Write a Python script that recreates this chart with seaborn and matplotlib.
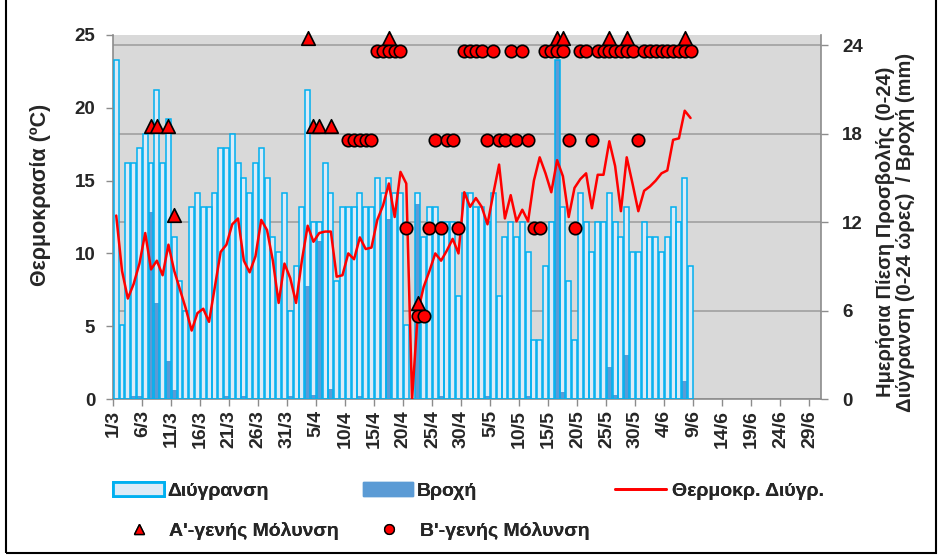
"""Wetness, rain, temperature and infection pressure, 1/3 - 29/6."""

import matplotlib

matplotlib.use("Agg")

import matplotlib.pyplot as plt
import numpy as np
import pandas as pd
import seaborn as sns
from matplotlib.lines import Line2D
from matplotlib.patches import Patch, Rectangle


sns.set_theme(style="white")
plt.rcParams["font.family"] = ["Liberation Sans", "DejaVu Sans"]
plt.rcParams["font.weight"] = "bold"
plt.rcParams["axes.labelweight"] = "bold"

# daily values from 1/3 (index 0) to 8/6 (index 99)
wetness = [
    23, 5, 16, 16, 17, 18, 16, 21, 16, 19,
    11, 8, 6, 13, 14, 13, 13, 14, 17, 17,
    18, 16, 15, 14, 16, 17, 15, 11, 10, 14,
    6, 9, 13, 21, 12, 12, 16, 14, 8, 13,
    13, 13, 14, 13, 13, 15, 14, 15, 14, 14,
    5, 0, 14, 11, 13, 13, 12, 12, 12, 7,
    14, 14, 13, 13, 12, 14, 7, 11, 12, 11,
    12, 10, 4, 4, 9, 12, 23, 13, 8, 4,
    14, 12, 10, 12, 12, 14, 12, 11, 13, 10,
    10, 12, 11, 11, 10, 11, 13, 12, 15, 9,
]
rain = [
    0, 0, 0, 0.2, 0.2, 0, 12.7, 6.5, 0, 2.6,
    0.6, 0, 0, 0, 0, 0, 0, 0, 0, 0.2,
    0, 0, 0.2, 0, 0, 0, 0, 0, 0, 0,
    0.2, 0, 0, 7.7, 0.3, 10.7, 0, 0.7, 0, 0,
    0, 0, 0.2, 0, 0, 0, 0, 12.2, 0, 0,
    0, 0, 13.2, 0, 0, 0, 0.2, 0, 0, 0,
    0, 0, 0, 0, 0.2, 0, 0, 0, 0, 0,
    0, 0.2, 0, 0, 0, 0, 23.0, 0.5, 0, 0,
    0, 0, 0, 0, 0, 2.2, 0.3, 0, 3.0, 0,
    0, 0, 0, 0, 0, 0, 0, 0, 1.2, 0,
]
temperature = [
    12.6, 8.8, 6.9, 7.9, 9.3, 11.4, 8.9, 9.5, 8.5, 10.6,
    8.8, 7.5, 6.2, 4.7, 5.9, 6.2, 5.3, 7.7, 10.1, 10.6,
    12.0, 12.4, 9.5, 8.7, 9.8, 12.3, 11.6, 9.5, 6.6, 9.3,
    8.3, 6.6, 9.5, 11.9, 10.8, 11.4, 11.5, 11.5, 8.4, 8.5,
    10.0, 9.6, 11.1, 10.3, 10.4, 12.3, 13.3, 14.8, 12.5, 15.6,
    14.8, 0.0, 6.0, 7.7, 8.8, 10.0, 9.5, 10.2, 11.0, 10.0,
    14.2, 13.2, 13.8, 13.2, 12.0, 14.1, 16.1, 12.4, 14.0, 12.2,
    13.0, 12.2, 15.0, 16.6, 15.5, 14.2, 16.4, 15.3, 12.5, 14.5,
    15.1, 15.5, 13.1, 15.4, 15.4, 17.7, 16.0, 12.9, 16.6, 14.8,
    12.9, 14.3, 14.6, 15.0, 15.5, 15.7, 17.8, 17.9, 19.8, 19.3,
]

# infection pressure (0-24) on the days with a primary / secondary infection
primary_days = [6, 7, 9, 10, 33, 34, 35, 37, 47, 52, 76, 77, 85, 88, 98]
primary_level = [18, 18, 18, 12, 24, 18, 18, 18, 24, 6, 24, 24, 24, 24, 24]
secondary_days = [
    40, 41, 42, 43, 44, 45, 46, 47, 48, 49, 50, 52, 53, 54, 55, 56, 57, 58, 59,
    60, 61, 62, 63, 64, 65, 66, 67, 68, 69, 70, 71, 72, 73, 74, 75, 76, 77, 78,
    79, 80, 81, 82, 83, 84, 85, 86, 87, 88, 89, 90, 91, 92, 93, 94, 95, 96, 97,
    98, 99,
]
secondary_level = [
    18, 18, 18, 18, 18, 24, 24, 24, 24, 24, 12, 6, 6, 12, 18, 12, 18, 18, 12,
    24, 24, 24, 24, 18, 24, 18, 18, 24, 18, 24, 18, 12, 12, 24, 24, 24, 24, 18,
    12, 24, 24, 18, 24, 24, 24, 24, 24, 24, 24, 18, 24, 24, 24, 24, 24, 24, 24,
    24, 24,
]

tick_labels = [
    "1/3", "6/3", "11/3", "16/3", "21/3", "26/3", "31/3", "5/4", "10/4",
    "15/4", "20/4", "25/4", "30/4", "5/5", "10/5", "15/5", "20/5", "25/5",
    "30/5", "4/6", "9/6", "14/6", "19/6", "24/6", "29/6",
]

WET_FILL = "#DDEBF7"
WET_EDGE = "#00B0F0"
RAIN = "#5B9BD5"
GRID = "#A0A0A0"
SPINE = "#8C8C8C"

data = pd.DataFrame(
    {
        "pos": np.arange(len(wetness)) + 0.5,
        "wetness": wetness,
        "rain": rain,
        "temperature": temperature,
    }
)
primary = pd.DataFrame({"pos": np.array(primary_days) + 0.5, "level": np.array(primary_level) + 0.5})
secondary = pd.DataFrame({"pos": np.array(secondary_days) + 0.5, "level": np.array(secondary_level) - 0.4})

fig = plt.figure(figsize=(9.42, 5.59), dpi=100)
ax = fig.add_axes([0.1203, 0.2862, 0.7513, 0.6512])
ax.set_facecolor("#D9D9D9")

bar_opts = dict(data=data, x="pos", native_scale=True, width=0.85, errorbar=None, ax=ax)
sns.barplot(y="wetness", color=WET_FILL, saturation=1, linewidth=0, zorder=2, **bar_opts)
sns.barplot(y="rain", color=RAIN, saturation=1, linewidth=0, zorder=3, **bar_opts)
sns.barplot(y="wetness", color=WET_EDGE, fill=False, linewidth=1.1, zorder=4, **bar_opts)

ax_t = ax.twinx()
sns.lineplot(data=data, x="pos", y="temperature", color="#FF0000", linewidth=1.8, ax=ax_t)

ax_m = ax.twinx()
sns.scatterplot(
    data=secondary, x="pos", y="level", marker="o", s=80, color="#FF0000",
    edgecolor="black", linewidth=1.2, ax=ax_m, zorder=5, clip_on=False,
)
sns.scatterplot(
    data=primary, x="pos", y="level", marker="^", s=95, color="#FF0000",
    edgecolor="black", linewidth=1.2, ax=ax_m, zorder=6, clip_on=False,
)

# hours / mm axis (right)
ax.set_xlim(0, 122)
ax.set_ylim(0, 24.7)
ax.set_yticks([0, 6, 12, 18, 24])
ax.yaxis.tick_right()
ax.yaxis.grid(True, color=GRID, linewidth=1.2)
ax.set_axisbelow(True)
ax.set_xticks(np.arange(0, 121, 5))
ax.set_xticklabels(tick_labels, rotation=90, fontsize=14, fontweight="bold")
ax.tick_params(axis="x", bottom=True, direction="out", length=5, width=1, color=SPINE, pad=3)
ax.tick_params(axis="y", right=True, left=False, labelright=True, labelleft=False,
               direction="out", length=5, width=1, color=SPINE, pad=10, labelsize=13.5)
ax.set_xlabel("")
ax.set_ylabel("")
for side in ["left", "right", "bottom"]:
    ax.spines[side].set_visible(True)
    ax.spines[side].set_color(SPINE)
    ax.spines[side].set_linewidth(1.2)
ax.spines["top"].set_visible(False)

# temperature axis (left)
ax_t.set_ylim(0, 25)
ax_t.set_yticks([0, 5, 10, 15, 20, 25])
ax_t.yaxis.tick_left()
ax_t.tick_params(axis="y", left=True, right=False, labelleft=True, labelright=False,
                 direction="out", length=5, width=1, color=SPINE, pad=8, labelsize=13.5)
ax_t.set_xlabel("")
ax_t.set_ylabel("")
for spine in ax_t.spines.values():
    spine.set_visible(False)

ax_m.set_ylim(ax.get_ylim())
ax_m.set_axis_off()

fig.text(0.043, 0.651, "Θερμοκρασία (ºC)", rotation=90, ha="center", va="center",
         fontsize=15.5, fontweight="bold")
fig.text(0.951, 0.585, "Ημερήσια Πίεση Προσβολής (0-24)\nΔιύγρανση (0-24 ώρες)  / Βροχή (mm)",
         rotation=90, ha="center", va="center", multialignment="center",
         fontsize=14.5, fontweight="bold", linespacing=1.05)

# legend, one entry at a time to keep the spacing of the original
legend_opts = dict(loc="center left", frameon=False, borderpad=0, borderaxespad=0,
                   prop={"size": 14, "weight": "bold"})
entries = [
    (Patch(facecolor=WET_FILL, edgecolor=WET_EDGE, linewidth=2), "Διύγρανση", (0.120, 0.1216), 2.6, 0.2),
    (Patch(facecolor=RAIN, edgecolor=RAIN), "Βροχή", (0.385, 0.1216), 2.6, 0.2),
    (Line2D([], [], color="#FF0000", linewidth=2), "Θερμοκρ. Διύγρ.", (0.653, 0.1216), 2.6, 0.35),
    (Line2D([], [], linestyle="", marker="^", markersize=7, markerfacecolor="#FF0000",
            markeredgecolor="black"), "Α'-γενής Μόλυνση", (0.136, 0.050), 1.1, 1.0),
    (Line2D([], [], linestyle="", marker="o", markersize=7, markerfacecolor="#FF0000",
            markeredgecolor="black"), "Β'-γενής Μόλυνση", (0.402, 0.050), 1.1, 1.0),
]
for handle, label, anchor, hlen, hpad in entries:
    leg = fig.legend([handle], [label], bbox_to_anchor=anchor, handlelength=hlen,
                     handleheight=0.7, handletextpad=hpad, **legend_opts)
    fig.add_artist(leg)

fig.add_artist(Rectangle((0.006, 0.011), 0.988, 1.2, transform=fig.transFigure,
                         fill=False, edgecolor="black", linewidth=1.5))

plt.savefig("out.png", dpi=100)
plt.close()
